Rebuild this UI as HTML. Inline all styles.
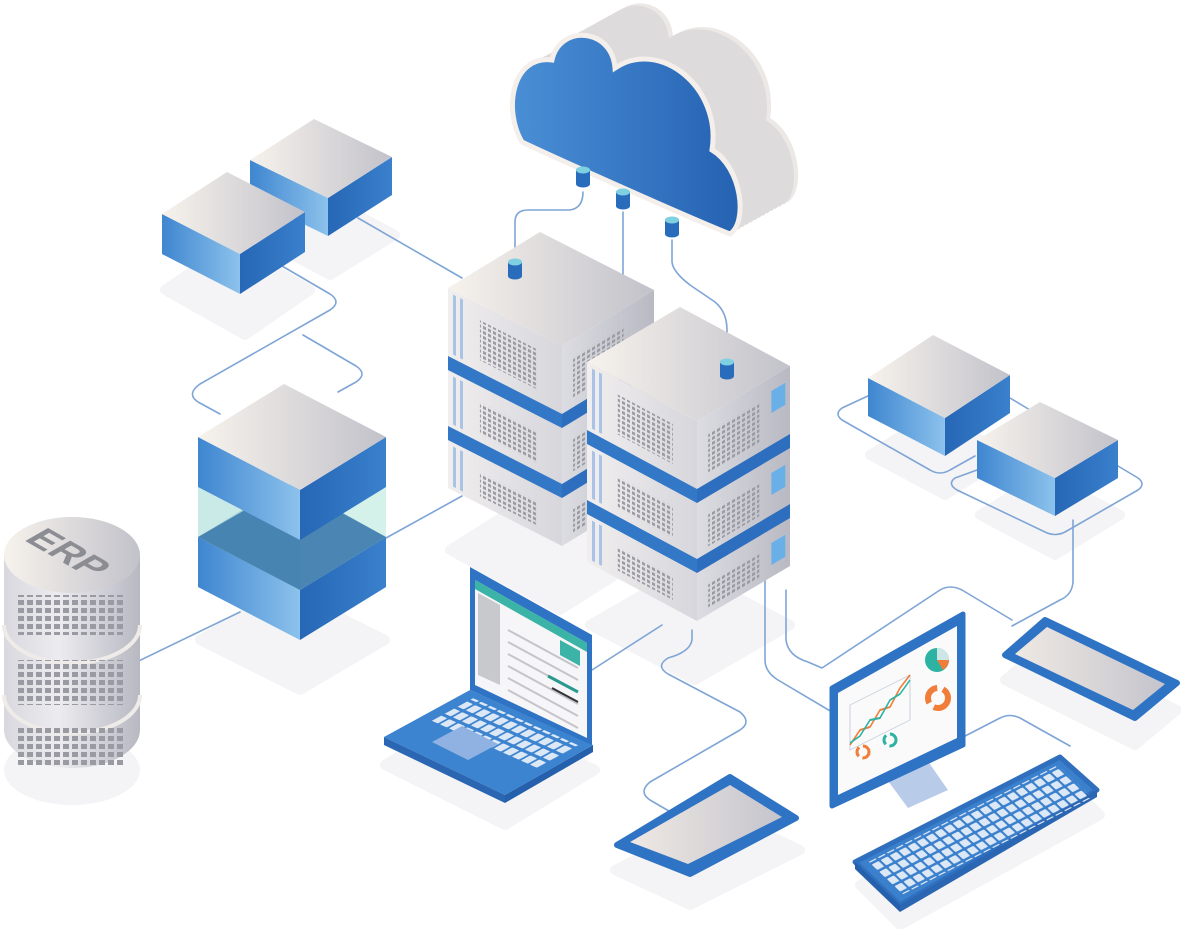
<!DOCTYPE html>
<html><head><meta charset="utf-8"><style>
html,body{margin:0;padding:0;background:#fff;width:1181px;height:929px;overflow:hidden}
</style></head><body>
<svg id="s" width="1181" height="929" viewBox="0 0 1181 929" xmlns="http://www.w3.org/2000/svg">
<defs>
<linearGradient id="gTop" x1="0" y1="0" x2="1" y2="0"><stop offset="0" stop-color="#f7f2ec"/><stop offset="1" stop-color="#c2c2ca"/></linearGradient>
<linearGradient id="gBL" x1="0" y1="0" x2="1" y2="0"><stop offset="0" stop-color="#3f86d0"/><stop offset="1" stop-color="#8cc2ec"/></linearGradient>
<linearGradient id="gBR" x1="0" y1="0" x2="1" y2="0"><stop offset="0" stop-color="#2667b6"/><stop offset="1" stop-color="#3a80cc"/></linearGradient>
<linearGradient id="gSL" x1="0" y1="0" x2="1" y2="0"><stop offset="0" stop-color="#f1eeee"/><stop offset="1" stop-color="#d6d6dc"/></linearGradient>
<linearGradient id="gSR" x1="0" y1="0" x2="1" y2="0"><stop offset="0" stop-color="#dcdce2"/><stop offset="1" stop-color="#b9b9c3"/></linearGradient>
<linearGradient id="gCloud" x1="0" y1="0" x2="1" y2="0"><stop offset="0" stop-color="#4a8fd6"/><stop offset="1" stop-color="#2562b2"/></linearGradient>
<linearGradient id="gCyl" x1="0" y1="0" x2="1" y2="0"><stop offset="0" stop-color="#d8d8de"/><stop offset="0.4" stop-color="#ececf0"/><stop offset="1" stop-color="#b8b8c2"/></linearGradient>
<linearGradient id="gScr" x1="0" y1="0" x2="1" y2="0"><stop offset="0" stop-color="#efe9e4"/><stop offset="1" stop-color="#c4c4cc"/></linearGradient>
<pattern id="dots" width="5" height="5" patternUnits="userSpaceOnUse"><rect x="0" y="0" width="3" height="3" fill="#9b9ba3"/></pattern>
<pattern id="dots2" width="9" height="8" patternUnits="userSpaceOnUse"><rect x="0" y="0" width="6" height="5" fill="#9a9aa2"/></pattern>
<pattern id="keys" width="9" height="8" patternUnits="userSpaceOnUse"><rect x="0" y="0" width="7" height="6" rx="1" fill="#dde8f6"/></pattern>
<pattern id="keysL" width="9" height="15" patternUnits="userSpaceOnUse"><rect x="0" y="0" width="7" height="11" rx="1" fill="#dde8f6"/></pattern>
</defs>
<g id="g"></g>
</svg>
<script>
let s='';
const P=a=>a.map(p=>p[0].toFixed(1)+','+p[1].toFixed(1)).join(' ');
function poly(pts,fill,extra){s+=`<polygon points="${P(pts)}" fill="${fill}" ${extra||''}/>`;}
function dn(p,h){return [p[0],p[1]+h];}
function box(L,B,R,h,top,lf,rf){
 const T=[L[0]+R[0]-B[0],L[1]+R[1]-B[1]];
 poly([L,B,dn(B,h),dn(L,h)],lf);
 poly([B,R,dn(R,h),dn(B,h)],rf);
 poly([L,T,R,B],top);
}
function shadow(L,B,R,dy){const T=[L[0]+R[0]-B[0],L[1]+R[1]-B[1]];poly([dn(L,dy),dn(T,dy),dn(R,dy),dn(B,dy)],'#f4f4f6','stroke="#f4f4f6" stroke-width="10" stroke-linejoin="round"');}
function line(d){s+=`<path d="${d}" fill="none" stroke="#7ea5d6" stroke-width="1.6" stroke-linejoin="round" stroke-linecap="round"/>`;}
function faceRect(O,slope,u0,v0,w,h,fill,extra){
 s+=`<rect transform="matrix(1,${slope},0,1,${O[0]},${O[1]})" x="${u0}" y="${v0}" width="${w}" height="${h}" fill="${fill}" ${extra||''}/>`;
}
function server(L,B,R,H,blueSq){
 box(L,B,R,H,'url(#gTop)','url(#gSL)','url(#gSR)');
 const sl=(B[1]-L[1])/(B[0]-L[0]), sr=(R[1]-B[1])/(R[0]-B[0]);
 const wl=B[0]-L[0], wr=R[0]-B[0];
 const units=[[0,68],[82,138],[152,H]];
 units.forEach((u,k)=>{
  faceRect(L,sl,wl*0.28,u[0]+16,wl*0.5,Math.min(40,u[1]-u[0]-24),'url(#dots)');
  faceRect(B,sr,wr*0.12,u[0]+18,wr*0.55,Math.min(40,u[1]-u[0]-24),'url(#dots)');
  faceRect(L,sl,5,u[0]+4,3,u[1]-u[0]-8,'#a9c3e5');
  faceRect(L,sl,12,u[0]+4,3,u[1]-u[0]-8,'#a9c3e5');
  if(blueSq) faceRect(B,sr,wr*0.8,u[0]+14,wr*0.15,22,'#6ab0e8');
 });
 [[68,82],[138,152]].forEach(b=>{
  poly([dn(L,b[0]),dn(B,b[0]),dn(B,b[1]),dn(L,b[1])],'#3378c6');
  poly([dn(B,b[0]),dn(R,b[0]),dn(R,b[1]),dn(B,b[1])],'#2d6fbe');
 });
}
function peg(x,y){s+=`<rect x="${x-7}" y="${y}" width="14" height="14" fill="#2a6cbc"/><ellipse cx="${x}" cy="${y+14}" rx="7" ry="3.5" fill="#2a6cbc"/><ellipse cx="${x}" cy="${y}" rx="7" ry="3.5" fill="#7fd0e0"/>`;}

/* shadows */
shadow([165,290],[245,335],[310,290],0);
shadow([255,235],[330,275],[395,235],0);
shadow([200,640],[300,690],[385,640],0);
shadow([450,550],[560,610],[655,550],0);
shadow([590,625],[695,680],[790,625],0);
shadow([870,455],[945,495],[1010,455],0);
shadow([980,515],[1055,555],[1120,515],0);
shadow([385,765],[505,825],[595,770],0);
shadow([615,870],[690,905],[800,850],0);
shadow([860,885],[900,925],[1100,815],0);
shadow([1005,680],[1135,745],[1177,710],0);
s+=`<ellipse cx="72" cy="770" rx="68" ry="35" fill="#f4f4f6"/>`;

/* connector lines */
line('M358,218 L462,278');
line('M282,266 L330,294 Q342,302 330,310 L200,384 Q186,394 198,402 L220,414');
line('M303,335 L356,366 Q368,374 356,382 L338,392');
line('M386,538 L462,496');
line('M120,670 L240,612');
line('M592,670 L662,625');
line('M692,630 L692,640 Q690,652 668,658 Q655,666 668,674 L740,712 Q752,722 740,730 L650,782 Q638,792 650,800 L674,814');
line('M765,580 L765,660 Q765,672 778,680 L832,712');
line('M786,590 L786,640 Q788,656 808,662 L822,668 L940,590 Q950,584 962,590 L1012,620');
line('M1073,520 L1073,582 Q1072,595 1060,600 L1012,626');
line('M870,395 L842,408 Q834,414 842,420 L930,470 Q940,476 950,470 L975,456');
line('M1010,398 L1030,410');
line('M977,470 L955,478 Q947,484 957,490 L1045,532 Q1055,537 1065,532 L1138,490 Q1146,484 1138,478 L1118,466');
line('M938,750 L1000,718 Q1010,713 1020,718 L1070,746');
line('M515,268 L515,222 Q515,210 528,210 L570,210 Q583,208 583,192');
line('M623,212 L623,340');
line('M672,240 L672,262 Q673,272 690,285 L715,302 Q727,312 727,330 L727,362');

/* cloud */
const cp='M522,142 C503,110 512,55 552,60 C560,24 612,28 615,68 C660,38 722,88 712,150 C742,168 748,222 730,234 C690,218 560,160 522,142 Z';
for(let i=14;i>=1;i--){const t=i/14;s+=`<path d="${cp}" transform="translate(${(58*t).toFixed(1)},${(-32*t).toFixed(1)})" fill="${i==14?'#ebe8e6':'#dedbdc'}"/>`;}
s+=`<path d="${cp}" fill="#f4efea" transform="translate(2,-2)"/>`;
s+=`<path d="${cp}" fill="url(#gCloud)" stroke="#f4efea" stroke-width="5"/>`;
peg(583,170);peg(623,192);peg(672,220);

/* small boxes */
box([250,160],[328,198],[392,157],38,'url(#gTop)','url(#gBL)','url(#gBR)');
box([162,214],[240,254],[305,212],40,'url(#gTop)','url(#gBL)','url(#gBR)');
box([868,378],[945,418],[1010,375],38,'url(#gTop)','url(#gBL)','url(#gBR)');
box([977,440],[1055,478],[1118,440],38,'url(#gTop)','url(#gBL)','url(#gBR)');

/* big middle-left box */
box([198,537],[300,590],[386,537],50,'#2f6fb0','url(#gBL)','url(#gBR)');
poly([[198,487],[300,540],[300,590],[198,537]],'#bfe6e2','opacity="0.85"');
poly([[300,540],[386,487],[386,537],[300,590]],'#cdeee6','opacity="0.85"');
poly([[198,537],[290,484],[386,537],[300,590]],'#2f6fa8','opacity="0.8"');
box([198,437],[300,490],[386,437],50,'url(#gTop)','url(#gBL)','url(#gBR)');

/* servers */
server([448,288],[562,346],[654,290],200,false);
peg(515,262);
server([587,362],[697,421],[790,366],200,true);
peg(727,362);

/* ERP cylinder */
s+=`<rect x="4" y="555" width="136" height="175" fill="url(#gCyl)"/><ellipse cx="72" cy="730" rx="68" ry="38" fill="url(#gCyl)"/>`;
s+=`<path d="M4,625 A68,38 0 0 0 140,625" fill="none" stroke="#eeebe8" stroke-width="4"/>`;
s+=`<path d="M4,695 A68,38 0 0 0 140,695" fill="none" stroke="#eeebe8" stroke-width="4"/>`;
[[595,40],[660,45],[728,40]].forEach(r=>{s+=`<rect x="18" y="${r[0]}" width="108" height="${r[1]}" fill="url(#dots2)"/>`;});
s+=`<ellipse cx="72" cy="555" rx="68" ry="38" fill="url(#gTop)"/>`;
s+=`<text transform="matrix(0.87,0.5,-0.87,0.5,68,553)" text-anchor="middle" dominant-baseline="central" font-family="Liberation Sans, sans-serif" font-weight="bold" font-size="38" fill="#8c8c93">ERP</text>`;

/* laptop */
poly([[384,737],[470,690],[593,745],[505,795]],'#3d84d0');
poly([[384,737],[505,795],[505,803],[384,745]],'#2a66b2');
poly([[505,795],[593,745],[593,752],[505,803]],'#2460ac');
s+=`<g transform="matrix(1,0.447,-0.86,0.47,470,690)"><rect x="10" y="8" width="106" height="50" fill="url(#keysL)"/></g>`;
poly([[432,742],[462,726],[498,744],[468,760]],'#8fb2e2');
poly([[470,567],[592,635],[592,745],[470,690]],'#2f73c4');
poly([[475,580],[587,643],[587,738],[475,685]],'#f6f6f8');
poly([[475,580],[587,643],[587,652],[475,589]],'#3bb3a6');
poly([[478,593],[500,605],[500,685],[478,675]],'#c8c9cd');
poly([[560,640],[580,651],[580,666],[560,655]],'#3bb3a6');
for(let i=0;i<6;i++){s+=`<path d="M508,${630+i*12} L578,${668+i*12}" stroke="#c4c4ca" stroke-width="2"/>`;}
s+=`<path d="M548,676 L578,692" stroke="#2a9a8e" stroke-width="3"/><path d="M552,688 L578,702" stroke="#333" stroke-width="2"/>`;

/* tablet bottom */
poly([[617,845],[730,777],[796,818],[690,874]],'#2f73c4','stroke="#2f73c4" stroke-width="6" stroke-linejoin="round"');
poly([[630,842],[730,785],[782,817],[688,864]],'url(#gScr)');

/* monitor */
poly([[880,770],[920,750],[948,790],[908,808]],'#b8cbe8');
poly([[832,688],[963,614],[963,745],[832,806]],'#2f73c4','stroke="#2f73c4" stroke-width="5" stroke-linejoin="round"');
poly([[838,693],[957,626],[957,738],[838,795]],'#fafafa');
s+=`<g transform="matrix(1,-0.5,0,1,850,705)"><rect x="0" y="0" width="60" height="45" fill="none" stroke="#c9d3de" stroke-width="1"/>
<path d="M0,40 L10,30 L20,32 L30,20 L40,22 L50,8 L60,0" fill="none" stroke="#f07d3a" stroke-width="2"/>
<path d="M0,38 L10,36 L20,25 L30,28 L40,15 L50,14 L60,5" fill="none" stroke="#2db3a2" stroke-width="2"/></g>`;
s+=`<circle cx="937" cy="660" r="12" fill="#2db3a2"/><path d="M937,660 L937,648 A12,12 0 0 1 949,660 Z" fill="#cfe6e6"/><path d="M937,660 L949,660 A12,12 0 0 1 943,670 Z" fill="#f07d3a"/>`;
s+=`<circle cx="938" cy="698" r="10" fill="none" stroke="#f07d3a" stroke-width="6" stroke-dasharray="20 6"/>`;
s+=`<circle cx="863" cy="752" r="6" fill="none" stroke="#f07d3a" stroke-width="3" stroke-dasharray="10 4"/><circle cx="890" cy="740" r="6" fill="none" stroke="#2db3a2" stroke-width="3" stroke-dasharray="10 4"/>`;

/* keyboard */
poly([[855,862],[1060,757],[1097,790],[900,905]],'#3a80cc','stroke="#2f6fbe" stroke-width="5" stroke-linejoin="round"');
poly([[855,862],[900,905],[900,912],[855,869]],'#2460ac');
poly([[900,905],[1097,790],[1097,797],[900,912]],'#2a66b2');
s+=`<g transform="matrix(1,-0.512,0.95,0.9,855,862)"><rect x="8" y="5" width="190" height="36" fill="url(#keys)"/></g>`;

/* tablet right */
poly([[1005,655],[1045,620],[1177,683],[1135,718]],'#2f73c4','stroke="#2f73c4" stroke-width="6" stroke-linejoin="round"');
poly([[1015,654],[1047,627],[1165,684],[1133,710]],'url(#gScr)');

document.getElementById('g').innerHTML=s;
</script>
</body></html>
